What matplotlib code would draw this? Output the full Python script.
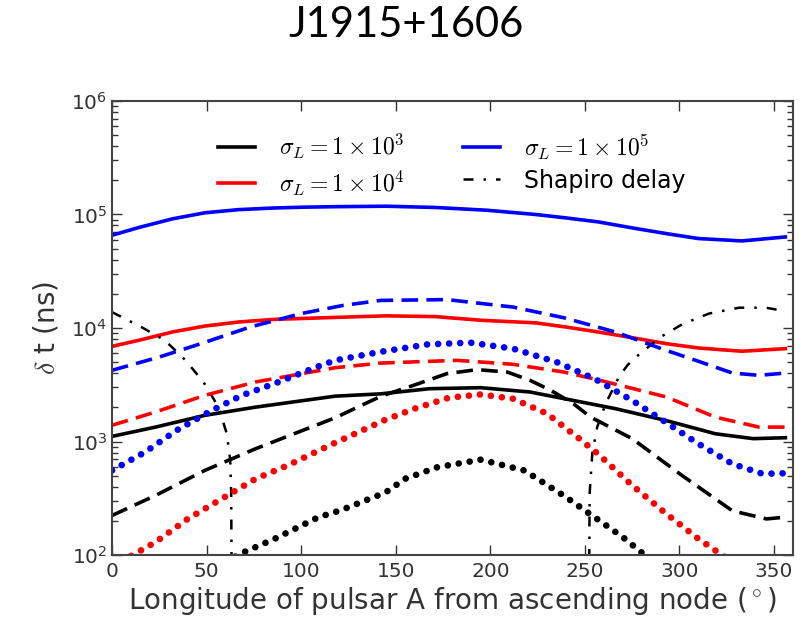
#!/usr/bin/env python

import matplotlib
matplotlib.use('Agg')
import matplotlib.pyplot as plt
import numpy as np

# sigma_L = 1e5 (blue)
x_b_solid = [0, 14, 32, 49, 67, 85, 100, 118, 145, 171, 198, 224, 240, 257, 275, 293, 310, 333, 356]
b_solid = [65600, 76700, 91600, 103500, 110400, 114000, 115900, 117200, 118300, 115300, 109100,
           100000, 93300, 86100, 76200, 67900, 61400, 58500, 63400]

x_b_dash = [0, 25, 47, 73, 100, 122, 142, 177, 212, 239, 256.6, 266, 293, 307, 328, 342, 356]
b_dash = [4240, 5550, 7280, 10200, 13400, 15800, 17500, 17800, 15300, 12300, 10200, 9230,
          6350, 5300, 4010, 3830, 4010]

x_b_dot = [0, 17.5, 34, 52, 68.6, 86, 109, 118, 142, 167, 189.5, 212, 235, 253, 257, 275,
           292.7, 310, 328, 344, 355]
b_dot = [556, 807, 1250, 1850, 2550, 3240, 4590, 5190, 6170, 7180, 7430, 6580, 5010, 3700,
         3430, 2300, 1480, 955, 635, 519, 525]

# sigma_L = 1e4 (red)
x_r_solid = [0, 14, 32, 49, 67, 85, 118, 145, 171, 195, 224, 240, 257, 275, 293, 310, 333, 356]
r_solid = [6900, 7780, 9230, 10400, 11300, 11900, 12400, 12800, 12600, 11700, 11100, 10200,
           9230, 8220, 7280, 6670, 6240, 6580]

x_r_dash = [0, 23, 49, 76, 118, 142, 182.5, 212, 239, 258, 293, 319, 342, 356]
r_dash = [1390, 1820, 2550, 3350, 4470, 4910, 5190, 4790, 4090, 3460, 2470, 1640, 1340, 1340]

x_r_dot = [0, 11, 23, 40, 58, 76, 93, 115, 144, 160, 178, 195, 212, 230, 247, 257, 275, 293,
           310, 321, 332]
r_dot = [79, 100, 130, 208, 313, 470, 617, 925, 1540, 1950, 2430, 2600, 2380, 1760, 1060, 776,
         411, 231, 139, 104, 78]

# sigma_L = 1e3 (black)
x_k_solid = [0, 23, 49, 76, 118, 142, 168, 195, 221, 248, 266, 293, 319, 339, 356]
k_solid = [1110, 1340, 1700, 2010, 2510, 2630, 2920, 2980, 2730, 2230, 1950, 1530, 1170, 1060, 1080]

x_k_dash = [0, 23, 49, 76, 118, 142, 159.5, 177, 193, 209, 221, 232, 244, 253, 275, 301, 328,
            346, 355]
k_dash = [223, 335, 556, 865, 1620, 2500, 3130, 3960, 4300, 4090, 3460, 2820, 2150, 1640, 1060,
          507, 245, 208, 215]

x_k_dot = [60, 68.6, 86, 109, 120.7, 144.5, 155, 172, 195, 218, 240, 252, 270, 281, 290]
k_dot = [87, 104, 139, 215, 247, 355, 470, 594, 692, 556, 324, 234, 144, 102, 76]

# Shapiro delay
x_shap = [0, 15.5, 28, 38.6, 48.3, 56.3, 60.7, 62.5, 63, 63.5, 160, 252, 252.5, 253.9, 256.5,
          261, 268, 272.5, 277, 290, 301.5, 315.6, 331.5, 345.7, 353.6]
shapiro = [13800, 10200, 7780, 5250, 3350, 2010, 1170, 682, 347, 10, np.nan, 10, 347, 782,
           1340, 2160, 3710, 4700, 5550, 8320, 10800, 13400, 15100, 15100, 14300]


def main():
    plt.rcParams['mathtext.fontset'] = 'cm'
    plt.rcParams['font.family'] = 'DejaVu Sans'

    fig = plt.figure(figsize=(8.03, 6.23), dpi=100)
    ax = fig.add_axes([0.1395, 0.1091, 0.848, 0.7288])

    lw = 2.6
    dashed = (0, (4.6, 2.3))
    dotted = (0, (0.01, 1.65))

    ax.plot(x_k_solid, k_solid, '-', color='k', lw=lw, label=r'$\sigma_L =1 \times 10^3$')
    ax.plot(x_r_solid, r_solid, '-', color='r', lw=lw, label=r'$\sigma_L =1 \times 10^4$')
    ax.plot(x_b_solid, b_solid, '-', color='b', lw=lw, label=r'$\sigma_L =1 \times 10^5$')
    ax.plot(x_shap, shapiro, color='k', lw=1.8, linestyle=(0, (4, 4, 1, 4)), label='Shapiro delay')

    ax.plot(x_k_dash, k_dash, color='k', lw=lw, linestyle=dashed)
    ax.plot(x_r_dash, r_dash, color='r', lw=lw, linestyle=dashed)
    ax.plot(x_b_dash, b_dash, color='b', lw=lw, linestyle=dashed)

    for xs, ys, c in [(x_k_dot, k_dot, 'k'), (x_r_dot, r_dot, 'r'), (x_b_dot, b_dot, 'b')]:
        ax.plot(xs, ys, color=c, lw=4.8, linestyle=dotted, dash_capstyle='round')

    ax.set_yscale('log')
    ax.set_xlim(0, 360)
    ax.set_ylim(1e2, 1e6)
    ax.set_xticks([0, 50, 100, 150, 200, 250, 300, 350])

    for s in ax.spines.values():
        s.set_color('#444444')
        s.set_linewidth(1.5)
    ax.tick_params(which='both', direction='in', top=True, right=True,
                   colors='#333333', labelsize=14.5)
    ax.tick_params(which='major', length=7, width=1)
    ax.tick_params(which='minor', length=4, width=1)
    ax.tick_params(axis='x', pad=5)

    ax.set_xlabel(r'Longitude of pulsar A from ascending node ($^\circ$)',
                  fontsize=20, color='#333333', labelpad=3)
    ax.set_ylabel(r'$\delta$ t (ns)', fontsize=20, color='#333333', labelpad=8)

    ax.legend(ncol=2, frameon=False, fontsize=17, loc='upper left',
              bbox_to_anchor=(0.125, 0.978), handlelength=1.55, handletextpad=1.0,
              columnspacing=2.5, labelspacing=0.3)

    fig.text(0.506, 0.96, 'J1915+1606', fontsize=30, family='Lato',
             ha='center', va='center')

    fig.savefig('out.png', dpi=100)


if __name__ == '__main__':
    main()
